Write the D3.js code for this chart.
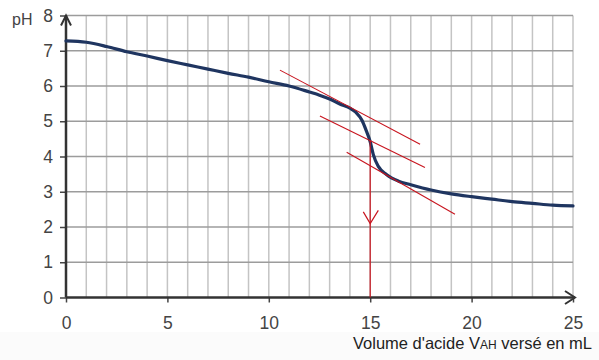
<!DOCTYPE html>
<html><head><meta charset="utf-8">
<script src="https://cdn.jsdelivr.net/npm/d3@7"></script>
<style>body{margin:0;background:#fff}svg{display:block}</style>
</head><body>
<svg id="c" width="599" height="360"></svg>
<script>
// Data
const volume = [0, 1, 2, 3, 4, 5, 6, 7, 8, 9, 10, 11, 12, 12.5, 13, 13.5, 14, 14.3, 14.6, 14.8, 15, 15.15, 15.4, 15.8, 16.4, 17, 18, 19, 20, 21, 22, 23, 24, 25];
const pH     = [7.28, 7.24, 7.12, 6.97, 6.85, 6.72, 6.6, 6.48, 6.36, 6.25, 6.12, 6.0, 5.83, 5.74, 5.63, 5.49, 5.37, 5.25, 5.02, 4.74, 4.42, 4.06, 3.72, 3.49, 3.3, 3.2, 3.05, 2.94, 2.86, 2.79, 2.72, 2.67, 2.62, 2.6];
const xTicks = [0, 5, 10, 15, 20, 25];
const yTicks = [0, 1, 2, 3, 4, 5, 6, 7, 8];
// tangent lines [V1, pH1, V2, pH2]
const tangents = [[10.55, 6.45, 17.46, 4.35], [12.52, 5.15, 17.70, 3.69], [13.84, 4.12, 19.18, 2.36]];
const equivV = 15, equivPH = 4.45, arrowTipPH = 2.1;

const svg = d3.select("#c");
svg.append("rect").attr("x",0).attr("y",332).attr("width",599).attr("height",28).attr("fill","#fbfbfb");
const x = d3.scaleLinear().domain([0,25]).range([66,573]);
const y = d3.scaleLinear().domain([0,8]).range([297.5,15.5]);

// vertical grid
svg.append("g").selectAll("line").data(d3.range(1,26)).join("line")
  .attr("x1",d=>x(d)).attr("x2",d=>x(d)).attr("y1",y(0)).attr("y2",y(8))
  .attr("stroke","#c4c4c4").attr("stroke-width",1.5);
// horizontal grid
svg.append("g").selectAll("line").data(yTicks.slice(1)).join("line")
  .attr("x1",x(0)).attr("x2",x(25)).attr("y1",d=>y(d)).attr("y2",d=>y(d))
  .attr("stroke","#9c9c9c").attr("stroke-width",1.5);

// axes
const yAxis = d3.axisLeft(y).tickValues(yTicks).tickSize(6).tickPadding(7).tickFormat(d3.format("d"));
const gy = svg.append("g").attr("transform",`translate(${x(0)},0)`).call(yAxis);
gy.select(".domain").remove();
gy.selectAll("line").attr("stroke","#444").attr("stroke-width",1.5);
gy.selectAll("text").attr("fill","#444").attr("font-size",17.5).attr("font-family","Liberation Sans, Arial, sans-serif");
const xAxis = d3.axisBottom(x).tickValues(xTicks).tickSize(5).tickPadding(14).tickFormat(d3.format("d"));
const gx = svg.append("g").attr("transform",`translate(0,${y(0)})`).call(xAxis);
gx.select(".domain").remove();
gx.selectAll("line").attr("stroke","#444").attr("stroke-width",1.5);
gx.selectAll("text").attr("fill","#444").attr("font-size",17.5).attr("font-family","Liberation Sans, Arial, sans-serif");

// axis lines with arrows
svg.append("line").attr("x1",x(0)).attr("x2",x(25)+2).attr("y1",y(0)).attr("y2",y(0)).attr("stroke","#333").attr("stroke-width",2.5);
svg.append("path").attr("d",`M${x(25)-8},${y(0)-6.5}L${x(25)+2},${y(0)}L${x(25)-8},${y(0)+6.5}`).attr("fill","none").attr("stroke","#333").attr("stroke-width",2);
svg.append("line").attr("x1",x(0)).attr("x2",x(0)).attr("y1",y(0)).attr("y2",y(8)).attr("stroke","#333").attr("stroke-width",2.5);
svg.append("path").attr("d",`M${x(0)-5},${y(8)+10}L${x(0)},${y(8)}L${x(0)+5},${y(8)+10}`).attr("fill","none").attr("stroke","#333").attr("stroke-width",2);

// curve
const line = d3.line().x((d,i)=>x(volume[i])).y(d=>y(d)).curve(d3.curveMonotoneX);
svg.append("path").attr("d",line(pH)).attr("fill","none").attr("stroke","#1f3560").attr("stroke-width",3.2).attr("stroke-linecap","round");

// tangents
svg.append("g").selectAll("line").data(tangents).join("line")
  .attr("x1",d=>x(d[0])).attr("y1",d=>y(d[1])).attr("x2",d=>x(d[2])).attr("y2",d=>y(d[3]))
  .attr("stroke","#c8141e").attr("stroke-width",1.1);
svg.append("line").attr("x1",x(equivV)).attr("x2",x(equivV)).attr("y1",y(equivPH)).attr("y2",y(0))
  .attr("stroke","#c8141e").attr("stroke-width",1.2);
svg.append("path").attr("d",`M${x(14.66)},${y(2.43)}L${x(equivV)},${y(arrowTipPH)}L${x(15.4)},${y(2.47)}`)
  .attr("fill","none").attr("stroke","#c8141e").attr("stroke-width",1.2);

// labels
svg.append("text").attr("x",12).attr("y",25).attr("font-size",16).attr("fill","#444")
  .attr("font-family","Liberation Sans, Arial, sans-serif").text("pH");
const t = svg.append("text").attr("x",592).attr("y",349).attr("text-anchor","end").attr("font-size",16.5).attr("fill","#222")
  .attr("font-family","Liberation Sans, Arial, sans-serif");
t.append("tspan").text("Volume d'acide V");
t.append("tspan").attr("font-size",12).text("AH");
t.append("tspan").text(" versé en mL");
</script>
</body></html>
